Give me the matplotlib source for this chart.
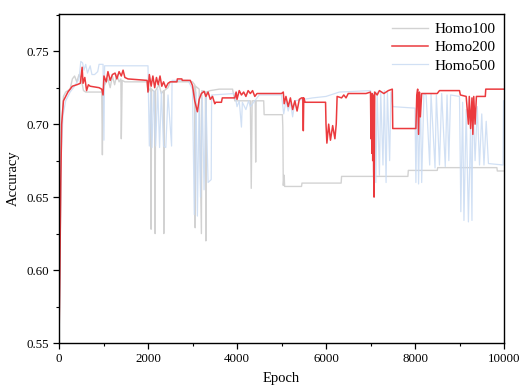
import matplotlib
matplotlib.use("Agg")
import matplotlib.pyplot as plt
from matplotlib.ticker import MultipleLocator

plt.rcParams['font.family'] = ['Liberation Serif', 'DejaVu Serif']

# ---------------- data: (epoch, accuracy) ----------------
homo100 = [(0, .550), (30, .630), (60, .700), (100, .719), (150, .722), (250, .724), (300, .731),
           (350, .733), (400, .729), (450, .734), (500, .731), (550, .723), (600, .722), (900, .722),
           (960, .722), (975, .679), (990, .722), (1010, .726), (1100, .731), (1150, .725),
           (1200, .733), (1250, .727), (1300, .734), (1350, .729), (1390, .731), (1400, .690),
           (1420, .730), (1480, .729), (1980, .729), (2000, .722), (2060, .725), (2070, .628),
           (2080, .724), (2150, .722), (2160, .625), (2170, .723), (2250, .727), (2300, .721),
           (2350, .723), (2355, .625), (2365, .723), (2450, .725), (2500, .729), (3000, .729),
           (3050, .727), (3060, .629), (3070, .726), (3150, .724), (3200, .625), (3210, .723),
           (3290, .722), (3300, .620), (3310, .722), (3400, .723), (3600, .724), (3900, .724),
           (3950, .716), (4300, .716), (4320, .656), (4340, .716), (4410, .716), (4420, .674),
           (4430, .716), (4600, .716), (4610, .7065), (5020, .7065), (5030, .698), (5040, .658),
           (5060, .665), (5070, .6573), (5450, .6573), (5460, .6596), (6340, .6596),
           (6350, .6642), (7840, .6642), (7850, .6683), (8500, .6683), (8510, .6702),
           (9840, .6702), (9850, .6679), (10000, .6679)]

homo200 = [(0, .550), (20, .600), (40, .660), (60, .700), (100, .716), (200, .722), (300, .726),
           (400, .727), (480, .728), (520, .739), (540, .728), (580, .732), (620, .723),
           (660, .727), (700, .726), (900, .725), (960, .724), (990, .720), (1010, .733),
           (1060, .729), (1100, .736), (1150, .730), (1200, .734), (1260, .735), (1300, .731),
           (1350, .736), (1400, .733), (1440, .737), (1480, .732), (1550, .731), (1980, .730),
           (2000, .722), (2030, .734), (2070, .726), (2110, .733), (2150, .725), (2190, .732),
           (2230, .727), (2270, .733), (2310, .726), (2350, .729), (2400, .725), (2450, .728),
           (2500, .729), (2650, .729), (2660, .731), (2760, .731), (2770, .730), (2950, .730),
           (3000, .7265), (3050, .716), (3110, .7085), (3150, .717), (3200, .721), (3260, .7225),
           (3300, .719), (3350, .722), (3400, .717), (3450, .719), (3500, .714), (3520, .715),
           (3650, .715), (3670, .718), (3950, .718), (3980, .722), (4000, .717), (4050, .723),
           (4100, .720), (4150, .722), (4200, .719), (4250, .723), (4300, .721), (4350, .723),
           (4400, .719), (4450, .721), (4500, .721), (5000, .721), (5040, .722), (5060, .714),
           (5100, .719), (5150, .712), (5200, .718), (5250, .710), (5300, .716), (5350, .709),
           (5400, .717), (5450, .718), (5480, .718), (5490, .6955), (5500, .718), (5530, .715),
           (5990, .715), (6000, .700), (6020, .687), (6060, .700), (6100, .689), (6150, .699),
           (6200, .690), (6230, .700), (6250, .719), (6350, .718), (6400, .720), (6450, .718),
           (6500, .721), (6900, .721), (7000, .722), (7010, .690), (7020, .720), (7030, .680),
           (7040, .721), (7050, .675), (7060, .720), (7070, .668), (7080, .650), (7095, .722),
           (7150, .720), (7200, .723), (7300, .721), (7400, .723), (7490, .724), (7500, .697),
           (8020, .697), (8040, .720), (8060, .724), (8080, .693), (8100, .722), (8120, .705),
           (8150, .721), (8500, .721), (8550, .723), (9000, .723), (9020, .720), (9150, .719),
           (9200, .700), (9220, .719), (9250, .697), (9280, .718), (9300, .693), (9320, .719),
           (9350, .700), (9380, .719), (9580, .719), (9590, .724), (10000, .724)]

homo500 = [(0, .550), (20, .600), (50, .680), (90, .706), (150, .716), (250, .722), (350, .726),
           (450, .731), (490, .743), (530, .742), (560, .737), (600, .741), (640, .735),
           (700, .740), (740, .734), (800, .734), (870, .736), (900, .741), (990, .741),
           (1010, .689), (1025, .740), (2000, .740), (2010, .720), (2030, .685), (2060, .722),
           (2090, .684), (2130, .723), (2170, .685), (2220, .724), (2260, .684), (2300, .722),
           (2350, .685), (2400, .684), (2450, .720), (2530, .685), (2540, .730), (2900, .730),
           (3000, .724), (3040, .638), (3080, .722), (3110, .637), (3150, .720), (3180, .650),
           (3220, .718), (3260, .655), (3300, .720), (3350, .660), (3420, .662), (3430, .720),
           (3950, .721), (4000, .712), (4050, .716), (4100, .698), (4120, .715), (4200, .710),
           (4260, .716), (4300, .712), (4400, .716), (4500, .720), (5000, .720), (5050, .707),
           (5100, .716), (5150, .709), (5200, .715), (5250, .705), (5300, .716), (5700, .718),
           (6000, .719), (6300, .722), (7000, .723), (7050, .690), (7080, .722), (7120, .660),
           (7150, .722), (7200, .665), (7230, .722), (7280, .672), (7310, .723), (7350, .660),
           (7380, .722), (7430, .675), (7460, .722), (7500, .712), (8000, .711), (8020, .660),
           (8050, .722), (8080, .659), (8120, .720), (8150, .660), (8200, .721), (8250, .720),
           (8330, .672), (8360, .721), (8450, .670), (8480, .720), (8550, .672), (8600, .721),
           (8680, .671), (8720, .720), (8760, .675), (8800, .720), (9000, .719), (9030, .640),
           (9070, .715), (9100, .634), (9150, .710), (9200, .633), (9250, .700), (9280, .634),
           (9300, .718), (9350, .675), (9400, .712), (9450, .672), (9500, .707), (9550, .672),
           (9600, .702), (9650, .673), (9980, .672), (9990, .716)]

series_names = ["Homo100", "Homo200", "Homo500"]
x_ticks = [0, 2000, 4000, 6000, 8000, 10000]
y_ticks = [0.55, 0.60, 0.65, 0.70, 0.75]
y_tick_labels = ["0.55", "0.60", "0.65", "0.70", "0.75"]

# ---------------- plot ----------------
fig = plt.figure(figsize=(5.30, 3.87), dpi=100)
ax = fig.add_axes([59 / 530, 1 - 343 / 387, 445 / 530, 329 / 387])

def xy(pairs):
    return [p[0] for p in pairs], [p[1] for p in pairs]

l100, = ax.plot(*xy(homo100), color="#c4c4c4", lw=1.0, alpha=0.75, label=series_names[0])
l500, = ax.plot(*xy(homo500), color="#c9dbf3", lw=0.9, alpha=0.85, label=series_names[2])
l200, = ax.plot(*xy(homo200), color="#eb3a3e", lw=1.1, label=series_names[1])

ax.set_xlim(0, 10000)
ax.set_ylim(0.55, 0.7755)
ax.set_xticks(x_ticks)
ax.set_yticks(y_ticks)
ax.set_yticklabels(y_tick_labels)
ax.xaxis.set_minor_locator(MultipleLocator(1000))
ax.yaxis.set_minor_locator(MultipleLocator(0.025))
ax.tick_params(which="major", direction="out", length=4, width=0.9, labelsize=9.3,
               top=False, right=False, pad=3)
ax.tick_params(which="minor", direction="out", length=2.5, width=0.8, top=False, right=False)
for s in ax.spines.values():
    s.set_linewidth(1.0)

ax.set_xlabel("Epoch", fontsize=10.5, labelpad=5)
ax.set_ylabel("Accuracy", fontsize=10.5, labelpad=5)

ax.legend(handles=[l100, l200, l500], loc="upper right", frameon=False, fontsize=11,
          handlelength=2.4, handletextpad=0.4, labelspacing=0.3,
          borderaxespad=0.15, bbox_to_anchor=(1.0, 1.0))

fig.savefig("out.png", dpi=100)
